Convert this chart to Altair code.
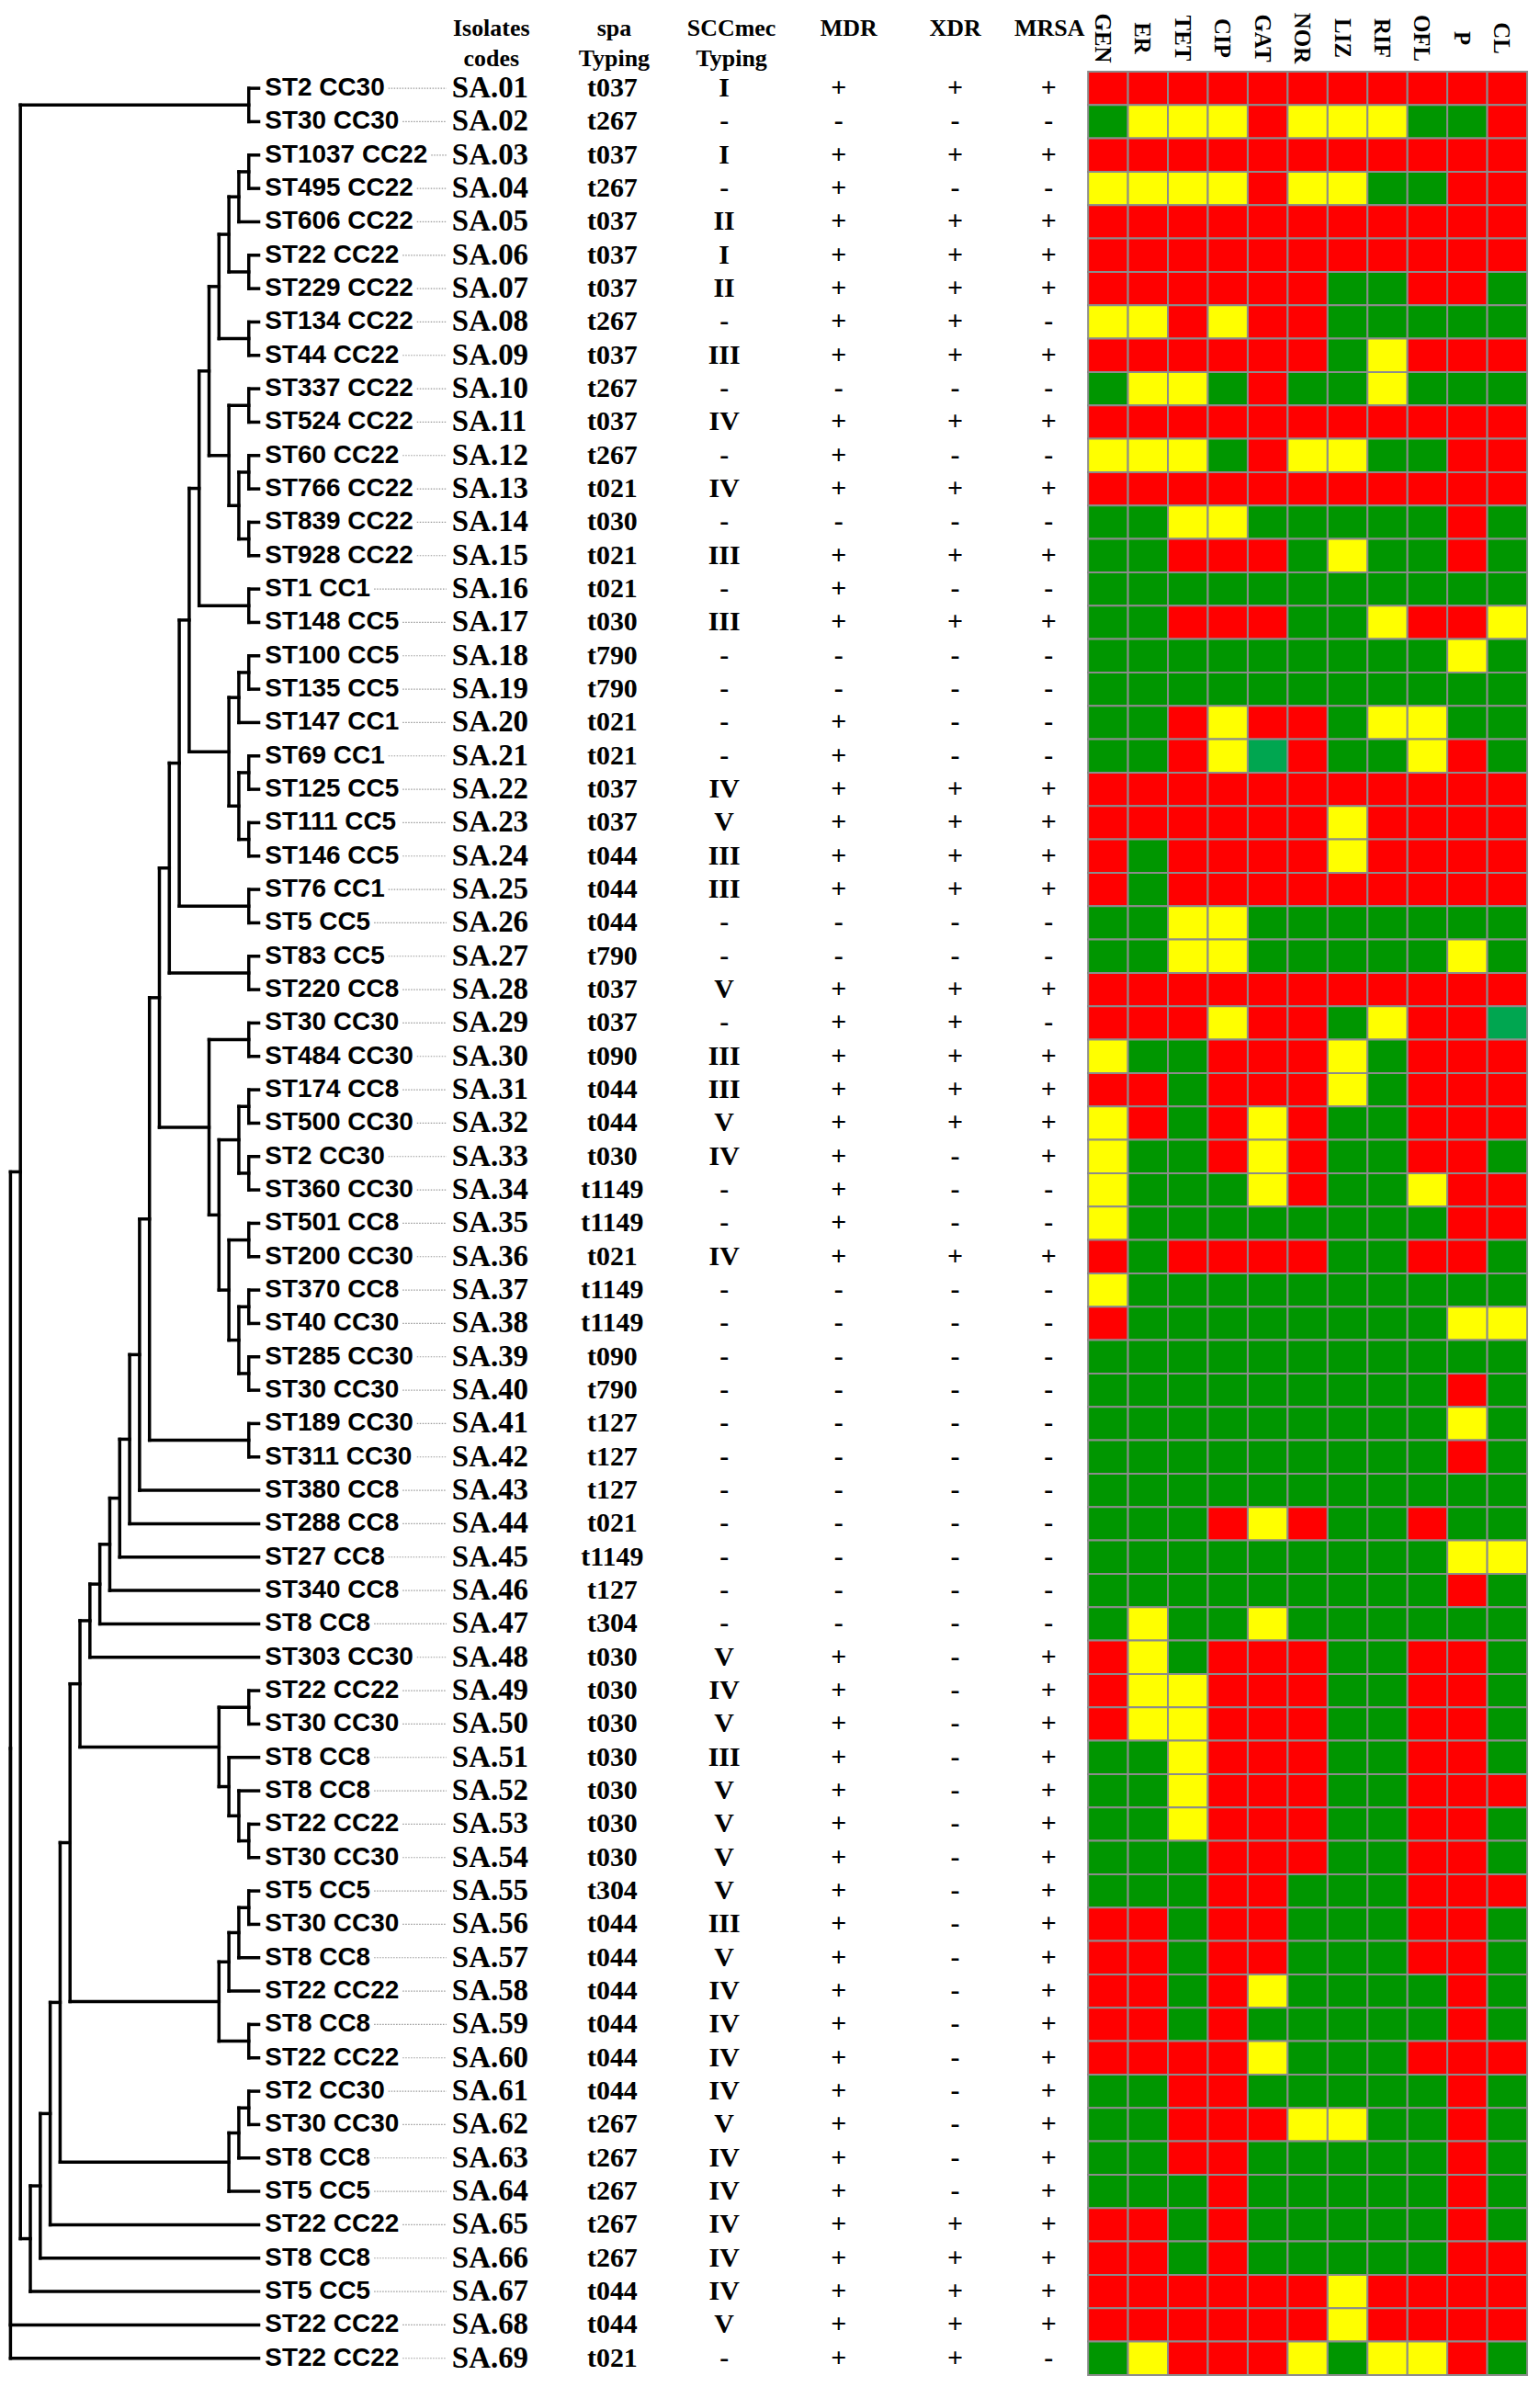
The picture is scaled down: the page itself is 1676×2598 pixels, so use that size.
import altair as alt
import pandas as pd

# ---------------- data ----------------
st_labels = ["ST2 CC30", "ST30 CC30", "ST1037 CC22", "ST495 CC22", "ST606 CC22", "ST22 CC22",
             "ST229 CC22", "ST134 CC22", "ST44 CC22", "ST337 CC22", "ST524 CC22", "ST60 CC22",
             "ST766 CC22", "ST839 CC22", "ST928 CC22", "ST1 CC1", "ST148 CC5", "ST100 CC5",
             "ST135 CC5", "ST147 CC1", "ST69 CC1", "ST125 CC5", "ST111 CC5", "ST146 CC5",
             "ST76 CC1", "ST5 CC5", "ST83 CC5", "ST220 CC8", "ST30 CC30", "ST484 CC30",
             "ST174 CC8", "ST500 CC30", "ST2 CC30", "ST360 CC30", "ST501 CC8", "ST200 CC30",
             "ST370 CC8", "ST40 CC30", "ST285 CC30", "ST30 CC30", "ST189 CC30", "ST311 CC30",
             "ST380 CC8", "ST288 CC8", "ST27 CC8", "ST340 CC8", "ST8 CC8", "ST303 CC30",
             "ST22 CC22", "ST30 CC30", "ST8 CC8", "ST8 CC8", "ST22 CC22", "ST30 CC30",
             "ST5 CC5", "ST30 CC30", "ST8 CC8", "ST22 CC22", "ST8 CC8", "ST22 CC22",
             "ST2 CC30", "ST30 CC30", "ST8 CC8", "ST5 CC5", "ST22 CC22", "ST8 CC8",
             "ST5 CC5", "ST22 CC22", "ST22 CC22"]

codes = ["SA.%02d" % i for i in range(1, 70)]

spa = ["t037", "t267", "t037", "t267", "t037", "t037", "t037", "t267", "t037", "t267",
       "t037", "t267", "t021", "t030", "t021", "t021", "t030", "t790", "t790", "t021",
       "t021", "t037", "t037", "t044", "t044", "t044", "t790", "t037", "t037", "t090",
       "t044", "t044", "t030", "t1149", "t1149", "t021", "t1149", "t1149", "t090", "t790",
       "t127", "t127", "t127", "t021", "t1149", "t127", "t304", "t030", "t030", "t030",
       "t030", "t030", "t030", "t030", "t304", "t044", "t044", "t044", "t044", "t044",
       "t044", "t267", "t267", "t267", "t267", "t267", "t044", "t044", "t021"]

sccmec = ["I", "-", "I", "-", "II", "I", "II", "-", "III", "-",
          "IV", "-", "IV", "-", "III", "-", "III", "-", "-", "-",
          "-", "IV", "V", "III", "III", "-", "-", "V", "-", "III",
          "III", "V", "IV", "-", "-", "IV", "-", "-", "-", "-",
          "-", "-", "-", "-", "-", "-", "-", "V", "IV", "V",
          "III", "V", "V", "V", "V", "III", "V", "IV", "IV", "IV",
          "IV", "V", "IV", "IV", "IV", "IV", "IV", "V", "-"]

mdr = list("+-+++++++-" "+++-+++--+" "+++++--+++" "++++++----" "-------"
           "++++++++++" "++++++++++" "++")
xdr = list("+-+-+++++-" "+-+-+-+---" "-++++--+++" "++---+----" "----------"
           "----------" "----" "+++++")
mrsa = list("+-+-+++-+-" "+-+-+-+---" "-++++--+-+" "+++--+----" "-------"
            "++++++++++" "++++++++++" "+" "-")

antibiotics = ["GEN", "ER", "TET", "CIP", "GAT", "NOR", "LIZ", "RIF", "OFL", "P", "CL"]

# R = red, Y = yellow, G = green, L = light green (one row per isolate, one letter per antibiotic)
resistance = [
    "RRRRRRRRRRR", "GYYYRYYYGGR", "RRRRRRRRRRR", "YYYYRYYGGRR", "RRRRRRRRRRR",
    "RRRRRRRRRRR", "RRRRRRGGRRG", "YYRYRRGGGGG", "RRRRRRGYRRR", "GYYGRGGYGGG",
    "RRRRRRRRRRR", "YYYGRYYGGRR", "RRRRRRRRRRR", "GGYYGGGGGRG", "GGRRRGYGGRG",
    "GGGGGGGGGGG", "GGRRRGGYRRY", "GGGGGGGGGYG", "GGGGGGGGGGG", "GGRYRRGYYGG",
    "GGRYLRGGYRG", "RRRRRRRRRRR", "RRRRRRYRRRR", "RGRRRRYRRRR", "RGRRRRRRRRR",
    "GGYYGGGGGGG", "GGYYGGGGGYG", "RRRRRRRRRRR", "RRRYRRGYRRL", "YGGRRRYGRRR",
    "RRGRRRYGRRR", "YRGRYRGGRRR", "YGGRYRGGRRG", "YGGGYRGGYRR", "YGGGGGGGGRR",
    "RGRRRRGGRRG", "YGGGGGGGGGG", "RGGGGGGGGYY", "GGGGGGGGGGG", "GGGGGGGGGRG",
    "GGGGGGGGGYG", "GGGGGGGGGRG", "GGGGGGGGGGG", "GGGRYRGGRGG", "GGGGGGGGGYY",
    "GGGGGGGGGRG", "GYGGYGGGGGG", "RYGRRRGGRRG", "RYYRRRGGRRG", "RYYRRRGGRRG",
    "GGYRRRGGRRG", "GGYRRRGGRRR", "GGYRRRGGRRG", "GGGRRRGGRRG", "GGGRRGGGRRR",
    "RRGRRGGGRRG", "RRGRRGGGRRG", "RRGRYGGGGRG", "RRGRGGGGGRG", "RRRRYGGGRRR",
    "GGRRGGGGGRG", "GGRRRYYGGRG", "GGRRGGGGGRG", "GGGRGGGGGRG", "RRGRGGGGGRG",
    "RRGRGGGGGRR", "RRRRRRYRRRR", "RRRRRRYRRRR", "GYRRRYGYYRG",
]

# dendrogram: internal nodes (children listed before parents), level = rank of the node
node_name = ["N1", "N2", "N3", "N4", "N5", "N6", "N7", "N8", "N9", "N10", "N11", "N12", "N13",
             "N15", "N14", "N20", "N18", "N21", "N22", "N19", "N17", "N16", "N24", "N23",
             "N26", "N25", "N29", "N32", "N33", "N31", "N35", "N37", "N38", "N36", "N34",
             "N30", "N28", "N27", "N41", "S11", "S12", "S13", "S14", "S15", "S16", "L17",
             "C1", "C2", "C3", "C4", "C", "L18",
             "Na", "Nb", "Nc", "Nd", "Ne", "L19", "Nf", "Ng", "Nh", "L20",
             "L21", "L22", "L23", "L24", "L25", "ROOT"]
node_left = ["SA.01", "SA.03", "N2", "SA.06", "N3", "SA.08", "N5", "SA.10", "SA.12", "SA.14",
             "N9", "N8", "N7", "SA.16", "N13", "SA.18", "N20", "SA.21", "SA.23", "N21", "N18",
             "N14", "SA.25", "N16", "SA.27", "N23", "SA.29", "SA.31", "SA.33", "N32", "SA.35",
             "SA.37", "SA.39", "N37", "N35", "N31", "N29", "N25", "SA.41", "N27", "S11", "S12",
             "S13", "S14", "S15", "S16",
             "SA.49", "SA.53", "SA.52", "SA.51", "C1", "L17",
             "SA.55", "Na", "Nb", "SA.59", "Nc", "L18", "SA.61", "Nf", "Ng", "L19",
             "L20", "L21", "L22", "N1", "L24", "L25"]
node_right = ["SA.02", "SA.04", "SA.05", "SA.07", "N4", "SA.09", "N6", "SA.11", "SA.13", "SA.15",
              "N10", "N11", "N12", "SA.17", "N15", "SA.19", "SA.20", "SA.22", "SA.24", "N22",
              "N19", "N17", "SA.26", "N24", "SA.28", "N26", "SA.30", "SA.32", "SA.34", "N33",
              "SA.36", "SA.38", "SA.40", "N38", "N36", "N34", "N30", "N28", "SA.42", "N41",
              "SA.43", "SA.44", "SA.45", "SA.46", "SA.47", "SA.48",
              "SA.50", "SA.54", "C2", "C3", "C4", "C",
              "SA.56", "SA.57", "SA.58", "SA.60", "Nd", "Ne", "SA.62", "SA.63",
              "SA.64", "Nh", "SA.65", "SA.66", "SA.67", "L23", "SA.68", "SA.69"]
node_level = [1, 1, 2, 1, 3, 1, 4, 1, 1, 1, 2, 3, 5,
              1, 6, 1, 2, 1, 1, 2, 3, 7, 1, 8,
              1, 9, 1, 1, 1, 2, 1, 1, 1, 2, 3,
              4, 5, 10, 1, 11, 12, 13, 14, 15, 16, 17,
              1, 1, 2, 3, 4, 18,
              1, 2, 3, 1, 4, 19, 1, 2, 3, 20,
              21, 22, 23, 24, 25, 25]

# ---------------- derived tables ----------------
rows_df = pd.DataFrame({"row": list(range(1, 70)), "st": st_labels, "code": codes, "spa": spa,
                        "scc": sccmec, "mdr": mdr, "xdr": xdr, "mrsa": mrsa})

pos = {c: (r, 0.0) for r, c in zip(rows_df["row"], codes)}
segs = []
for n, a, b, lv in zip(node_name, node_left, node_right, node_level):
    ya, la = pos[a]
    yb, lb = pos[b]
    segs.append({"x": lv, "x2": lv, "y": ya, "y2": yb})
    segs.append({"x": la, "x2": lv, "y": ya, "y2": ya})
    segs.append({"x": lb, "x2": lv, "y": yb, "y2": yb})
    pos[n] = ((ya + yb) / 2.0, lv)
seg_df = pd.DataFrame(segs)

# leader dots: from end of the ST label to the isolate code
ST_FONT = 28
ARIAL_B = {"S": 0.667, "T": 0.611, "C": 0.722, " ": 0.278}
LABEL_X = 279
DOTS_END = 477
dot_rows = []
for r, s in zip(rows_df["row"], st_labels):
    w = sum(ARIAL_B.get(ch, 0.556) for ch in s) * ST_FONT
    dot_rows.append({"row": r, "d0": LABEL_X + w + 4, "d1": DOTS_END})
dot_df = pd.DataFrame(dot_rows)

heat_df = pd.DataFrame([{"code": c, "drug": d, "res": resistance[i][j]}
                        for i, c in enumerate(codes) for j, d in enumerate(antibiotics)])

headers1 = pd.DataFrame({"t": ["Isolates", "spa", "SCCmec", "MDR", "XDR", "MRSA"],
                         "x": [526, 660, 788, 916, 1032, 1135]})
headers2 = pd.DataFrame({"t": ["codes", "Typing", "Typing"], "x": [526, 660, 788]})

# ---------------- chart ----------------
H = 2513
W1 = 1176
W2 = 479
yscale = alt.Scale(domain=[69.5, 0.5], nice=False, zero=False)
ychan = alt.Y("row:Q", scale=yscale, axis=None)

dendro = alt.Chart(seg_df).mark_rule(color="black", strokeWidth=3.5, strokeCap="square").encode(
    x=alt.X("x:Q", scale=alt.Scale(domain=[25.13, 0], range=[0, 272.2], nice=False, zero=False), axis=None),
    x2="x2:Q",
    y=alt.Y("y:Q", scale=yscale, axis=None),
    y2="y2:Q",
)

px = alt.Scale(domain=[0, W1], nice=False, zero=False)
dots = alt.Chart(dot_df).mark_rule(color="#9a9a9a", strokeWidth=1.2, strokeDash=[1.5, 1.5]).encode(
    x=alt.X("d0:Q", scale=px, axis=None), x2="d1:Q", y=ychan)

SERIF = "Liberation Serif"
SANS = "Liberation Sans"


def col_text(field, xpx, align, font, size):
    return alt.Chart(rows_df).mark_text(
        align=align, baseline="middle", font=font, fontSize=size, fontWeight="bold", color="black"
    ).encode(x=alt.value(xpx), y=ychan, text=alt.Text(field + ":N"))


st_text = col_text("st", LABEL_X, "left", SANS, ST_FONT)
code_text = col_text("code", 483, "left", SERIF, 33)
spa_text = col_text("spa", 658, "center", SERIF, 30)
scc_text = col_text("scc", 780, "center", SERIF, 30)
mdr_text = col_text("mdr", 905, "center", SERIF, 30)
xdr_text = col_text("xdr", 1032, "center", SERIF, 30)
mrsa_text = col_text("mrsa", 1134, "center", SERIF, 30)

hdr1 = alt.Chart(headers1).mark_text(align="center", baseline="middle", font=SERIF, fontSize=26,
                                     fontWeight="bold", color="black").encode(
    x=alt.X("x:Q", scale=px, axis=None), y=alt.value(-47), text="t:N")
hdr2 = alt.Chart(headers2).mark_text(align="center", baseline="middle", font=SERIF, fontSize=26,
                                     fontWeight="bold", color="black").encode(
    x=alt.X("x:Q", scale=px, axis=None), y=alt.value(-14), text="t:N")

panel1 = alt.layer(dendro, dots, st_text, code_text, spa_text, scc_text, mdr_text, xdr_text,
                   mrsa_text, hdr1, hdr2).resolve_scale(x="independent").properties(width=W1, height=H)

heat = alt.Chart(heat_df).mark_rect(stroke="#8c8c8c", strokeWidth=2).encode(
    x=alt.X("drug:N", sort=antibiotics, scale=alt.Scale(paddingInner=0, paddingOuter=0),
            axis=alt.Axis(orient="top", title=None, ticks=False, domain=False, labelAngle=90,
                          labelAlign="center", labelBaseline="middle", labelPadding=37,
                          labelOffset=-6, labelFont=SERIF, labelFontWeight="bold",
                          labelFontSize=25, labelColor="black")),
    y=alt.Y("code:N", sort=codes, scale=alt.Scale(paddingInner=0, paddingOuter=0), axis=None),
    color=alt.Color("res:N", scale=alt.Scale(domain=["R", "Y", "G", "L"],
                                             range=["#ff0000", "#ffff00", "#009600", "#00a650"]),
                    legend=None),
).properties(width=W2, height=H)

chart = alt.hconcat(panel1, heat, spacing=0).properties(
    padding={"left": 0, "top": 2, "right": 5, "bottom": 5}
).configure_view(strokeWidth=0)

chart.save("out.html", embed_options={"renderer": "svg", "actions": False})
